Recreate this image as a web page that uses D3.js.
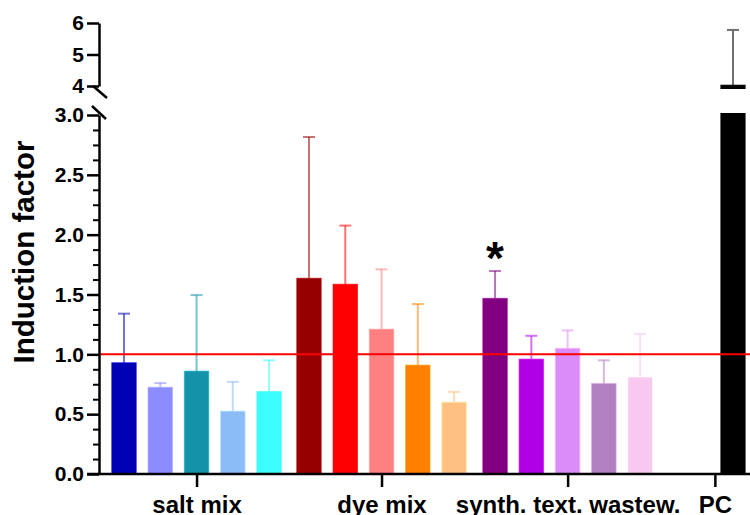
<!DOCTYPE html>
<html>
<head>
<meta charset="utf-8">
<script src="https://cdn.jsdelivr.net/npm/d3@7"></script>
<style>
  body { margin: 0; background: #fff; }
  text { font-family: "Liberation Sans", Arial, sans-serif; font-weight: bold; }
</style>
</head>
<body>
<script>
// data (mean, upper error = mean + SD)
const groups = ["salt mix", "dye mix", "synth. text. wastew.", "PC"];

const saltMix = [0.93, 0.725, 0.86, 0.525, 0.69];
const saltMixSD = [0.41, 0.035, 0.635, 0.245, 0.26];

const dyeMix = [1.636, 1.586, 1.21, 0.91, 0.60];
const dyeMixSD = [1.18, 0.49, 0.50, 0.51, 0.086];

const synthWastew = [1.468, 0.96, 1.05, 0.756, 0.81];
const synthWastewSD = [0.228, 0.195, 0.15, 0.194, 0.36];

const pc = [0, 4.03];
const pcSD = [0, 1.75];

const significance = [{ group: 2, index: 0, label: "*" }];

const refLine = 1.0;

const lowTicks = [0, 0.5, 1.0, 1.5, 2.0, 2.5, 3.0];
const highTicks = [4, 5, 6];

// colours
const saltColors = ["#0000b4", "#8c8cff", "#1492aa", "#8cbcf8", "#3cfcfc"];
const dyeColors = ["#960000", "#ff0000", "#ff8080", "#ff8000", "#ffc080"];
const synthColors = ["#800080", "#b000e6", "#dc8cf8", "#b080c0", "#f8c8f0"];
const pcColors = ["none", "#000000"];

const width = 750, height = 515;
const axisX = 99;
const groupGap = [0, 0.1, 0.13, 0.56];   // extra space before each group, in slots
const barW = 24.5;

let means = [saltMix, dyeMix, synthWastew, pc];
let sds = [saltMixSD, dyeMixSD, synthWastewSD, pcSD];
let colors = [saltColors, dyeColors, synthColors, pcColors];

// flatten into bars with a slot index
let bars = [];
let slot = 0, groupSlots = [];
means.forEach((arr, g) => {
  slot += groupGap[g];
  let first = slot;
  arr.forEach((v, i) => {
    bars.push({ g: g, i: i, value: v, sd: sds[g][i], color: colors[g][i], slot: slot });
    slot += 1;
  });
  groupSlots.push((first + slot - 1) / 2);
});
bars = bars.filter(d => d.value > 0);

let x = d3.scaleLinear()
  .domain([0, d3.max(bars, d => d.slot)])
  .range([124, 733]);

let yLow = d3.scaleLinear().domain([0, 3]).range([474, 115]);
let yHigh = d3.scaleLinear().domain([4, 6]).range([86, 23]);

let xGroup = d3.scaleOrdinal()
  .domain(groups)
  .range(groupSlots.map(s => x(s)));

let svg = d3.select("body").append("svg")
  .attr("width", width)
  .attr("height", height);

let defs = svg.append("defs");
defs.append("clipPath").attr("id", "clip-low")
  .append("rect").attr("x", axisX).attr("y", 113).attr("width", width - axisX).attr("height", 362);
defs.append("clipPath").attr("id", "clip-high")
  .append("rect").attr("x", axisX).attr("y", 0).attr("width", width - axisX).attr("height", 89);

// draw one segment of the broken axis
function drawSegment(y, clipId, errColorFor) {
  let seg = svg.append("g").attr("clip-path", "url(#" + clipId + ")");

  let eb = seg.selectAll(".err")
    .data(bars)
    .enter().append("g")
    .attr("class", "err")
    .attr("stroke", errColorFor)
    .attr("stroke-width", 2);

  eb.append("line")
    .attr("x1", d => x(d.slot)).attr("x2", d => x(d.slot))
    .attr("y1", d => y(d.value)).attr("y2", d => y(d.value + d.sd));

  eb.append("line")
    .attr("x1", d => x(d.slot) - 6).attr("x2", d => x(d.slot) + 6)
    .attr("y1", d => y(d.value + d.sd)).attr("y2", d => y(d.value + d.sd));

  seg.selectAll(".bar")
    .data(bars)
    .enter().append("rect")
    .attr("class", "bar")
    .attr("x", d => x(d.slot) - barW / 2)
    .attr("width", barW)
    .attr("y", d => y(d.value))
    .attr("height", d => Math.max(0, y(y.domain()[0]) + 20 - y(d.value)))
    .attr("fill", d => d.color)
    .attr("stroke", d => d3.color(d.color).brighter(0.6))
    .attr("stroke-opacity", 0.6)
    .attr("stroke-width", 1);

  return seg;
}

let errColor = d => {
  let c = d3.color(d.color);
  c.opacity = 0.55;
  return c + "";
};

drawSegment(yLow, "clip-low", errColor);
drawSegment(yHigh, "clip-high", d => d.g === 3 ? "#707070" : errColor(d));

// reference line at 1.0
svg.append("line")
  .attr("x1", axisX).attr("x2", width)
  .attr("y1", yLow(refLine)).attr("y2", yLow(refLine))
  .attr("stroke", "#ff0000")
  .attr("stroke-width", 2);

// significance stars
svg.selectAll(".star")
  .data(significance)
  .enter().append("text")
  .attr("class", "star")
  .attr("x", d => x(bars.find(b => b.g === d.group && b.i === d.index).slot))
  .attr("y", d => {
    let b = bars.find(b => b.g === d.group && b.i === d.index);
    return yLow(b.value + b.sd) + 3;
  })
  .attr("text-anchor", "middle")
  .attr("font-size", 46)
  .text(d => d.label);

// y axes
function styleAxis(g) {
  g.selectAll("path, line").attr("stroke", "#000").attr("stroke-width", 2.5);
  g.selectAll("text")
    .attr("font-size", 21)
    .attr("font-family", "Liberation Sans, Arial, sans-serif")
    .attr("font-weight", "bold")
    .attr("fill", "#000");
}

let minorLow = d3.range(0, 3.001, 0.125).filter(v => lowTicks.indexOf(v) < 0);
svg.append("g")
  .attr("transform", "translate(" + axisX + ",0)")
  .call(d3.axisLeft(yLow).tickValues(minorLow).tickSize(6).tickFormat(""))
  .call(g => g.select(".domain").remove())
  .call(styleAxis)
  .selectAll("line").attr("stroke-width", 2);

svg.append("g")
  .attr("transform", "translate(" + axisX + ",0)")
  .call(d3.axisLeft(yLow).tickValues(lowTicks).tickSize(12).tickSizeOuter(0).tickFormat(d3.format(".1f")))
  .call(styleAxis);

svg.append("g")
  .attr("transform", "translate(" + axisX + ",0)")
  .call(d3.axisLeft(yHigh).tickValues(highTicks).tickSize(12).tickSizeOuter(0).tickFormat(d3.format("d")))
  .call(styleAxis);

// break marks
svg.append("line")
  .attr("x1", axisX - 6).attr("y1", yHigh(4))
  .attr("x2", axisX + 8).attr("y2", yHigh(4) + 12)
  .attr("stroke", "#000").attr("stroke-width", 2.5);
svg.append("line")
  .attr("x1", axisX - 7).attr("y1", yLow(3) - 9)
  .attr("x2", axisX + 7).attr("y2", yLow(3) + 4)
  .attr("stroke", "#000").attr("stroke-width", 2.5);

// x axis
let xAxis = svg.append("g")
  .attr("transform", "translate(0," + yLow(0) + ")")
  .call(d3.axisBottom(xGroup).tickSize(13).tickPadding(9))
  .call(g => g.select(".domain").remove());
xAxis.append("line")
  .attr("x1", axisX - 12).attr("x2", width)
  .attr("stroke", "#000").attr("stroke-width", 2.5);
styleAxis(xAxis);
xAxis.selectAll("text").attr("font-size", 24);

// y label
svg.append("text")
  .attr("transform", "translate(34,252) rotate(-90)")
  .attr("text-anchor", "middle")
  .attr("font-size", 29.5)
  .text("Induction factor");
</script>
</body>
</html>
